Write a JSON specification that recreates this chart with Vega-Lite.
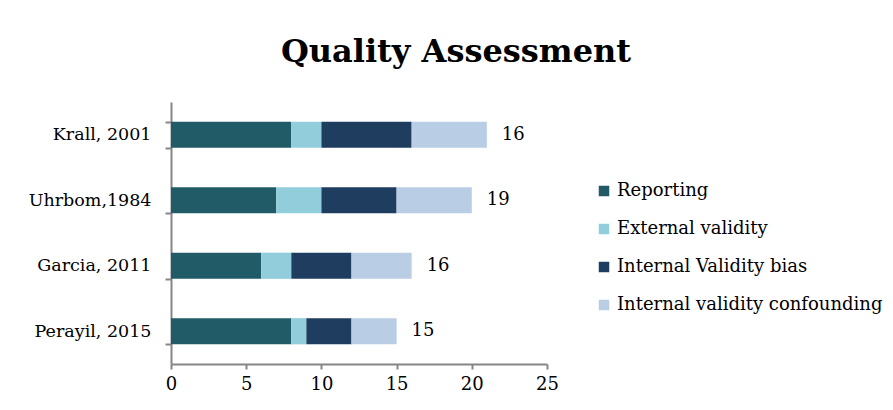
{
  "$schema": "https://vega.github.io/schema/vega-lite/v6.json",
  "width": 376,
  "height": 262,
  "autosize": {"type": "none"},
  "padding": {"left": 171, "top": 102, "right": 346, "bottom": 46},
  "background": "white",
  "title": {
    "text": "Quality Assessment",
    "font": "DejaVu Serif",
    "fontSize": 32,
    "fontWeight": "bold",
    "color": "#000000",
    "anchor": "middle",
    "frame": "group",
    "dx": 97,
    "offset": 24
  },
  "datasets": {
    "scores": [
      {"study": "Krall, 2001", "domain": "Reporting", "order": 1, "score": 8},
      {"study": "Krall, 2001", "domain": "External validity", "order": 2, "score": 2},
      {"study": "Krall, 2001", "domain": "Internal Validity bias", "order": 3, "score": 6},
      {"study": "Krall, 2001", "domain": "Internal validity confounding", "order": 4, "score": 5},
      {"study": "Uhrbom,1984", "domain": "Reporting", "order": 1, "score": 7},
      {"study": "Uhrbom,1984", "domain": "External validity", "order": 2, "score": 3},
      {"study": "Uhrbom,1984", "domain": "Internal Validity bias", "order": 3, "score": 5},
      {"study": "Uhrbom,1984", "domain": "Internal validity confounding", "order": 4, "score": 5},
      {"study": "Garcia, 2011", "domain": "Reporting", "order": 1, "score": 6},
      {"study": "Garcia, 2011", "domain": "External validity", "order": 2, "score": 2},
      {"study": "Garcia, 2011", "domain": "Internal Validity bias", "order": 3, "score": 4},
      {"study": "Garcia, 2011", "domain": "Internal validity confounding", "order": 4, "score": 4},
      {"study": "Perayil, 2015", "domain": "Reporting", "order": 1, "score": 8},
      {"study": "Perayil, 2015", "domain": "External validity", "order": 2, "score": 1},
      {"study": "Perayil, 2015", "domain": "Internal Validity bias", "order": 3, "score": 3},
      {"study": "Perayil, 2015", "domain": "Internal validity confounding", "order": 4, "score": 3}
    ],
    "labels": [
      {"study": "Krall, 2001", "total": 21, "label": "16"},
      {"study": "Uhrbom,1984", "total": 20, "label": "19"},
      {"study": "Garcia, 2011", "total": 16, "label": "16"},
      {"study": "Perayil, 2015", "total": 15, "label": "15"}
    ]
  },
  "encoding": {
    "y": {
      "field": "study",
      "type": "nominal",
      "sort": ["Krall, 2001", "Uhrbom,1984", "Garcia, 2011", "Perayil, 2015"],
      "scale": {"paddingInner": 0.6, "paddingOuter": 0.3},
      "axis": {
        "title": null,
        "domainColor": "#868686",
        "domainWidth": 2,
        "tickColor": "#868686",
        "tickWidth": 2,
        "tickSize": 6,
        "tickBand": "extent",
        "labelFont": "DejaVu Serif",
        "labelFontSize": 17.5,
        "labelColor": "#000000",
        "labelPadding": 14
      }
    }
  },
  "layer": [
    {
      "data": {"name": "scores"},
      "mark": {"type": "bar"},
      "encoding": {
        "x": {
          "field": "score",
          "type": "quantitative",
          "stack": "zero",
          "scale": {"domain": [0, 25], "nice": false},
          "axis": {
            "title": null,
            "values": [0, 5, 10, 15, 20, 25],
            "grid": false,
            "labelFlush": false,
            "domainColor": "#868686",
            "domainWidth": 2,
            "tickColor": "#868686",
            "tickWidth": 2,
            "tickSize": 5,
            "labelFont": "DejaVu Serif",
            "labelFontSize": 18,
            "labelColor": "#000000",
            "labelPadding": 6
          }
        },
        "color": {
          "field": "domain",
          "type": "nominal",
          "sort": ["Reporting", "External validity", "Internal Validity bias", "Internal validity confounding"],
          "scale": {
            "domain": ["Reporting", "External validity", "Internal Validity bias", "Internal validity confounding"],
            "range": ["#215B68", "#92CDDC", "#1F3D5F", "#B9CDE5"]
          },
          "legend": {
            "title": null,
            "orient": "none",
            "legendX": 424,
            "legendY": 80,
            "symbolType": "square",
            "symbolSize": 110,
            "symbolStrokeWidth": 0,
            "labelFont": "DejaVu Serif",
            "labelFontSize": 18,
            "labelColor": "#000000",
            "labelOffset": 4,
            "rowPadding": 20,
            "labelLimit": 400
          }
        },
        "order": {"field": "order", "type": "quantitative"}
      }
    },
    {
      "data": {"name": "labels"},
      "mark": {"type": "text", "align": "left", "baseline": "middle", "dx": 15, "font": "DejaVu Serif", "fontSize": 18, "color": "#000000"},
      "encoding": {
        "x": {"field": "total", "type": "quantitative"},
        "text": {"field": "label", "type": "nominal"}
      }
    }
  ],
  "config": {
    "view": {"stroke": null}
  }
}
